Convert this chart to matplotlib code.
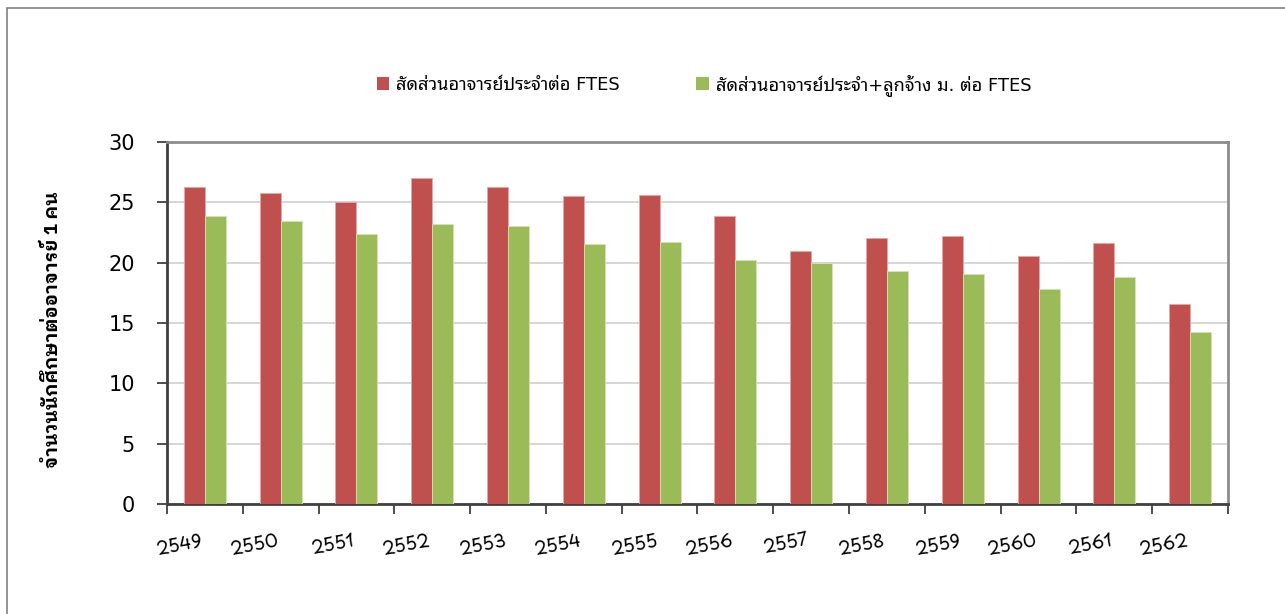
import numpy as np
import matplotlib
matplotlib.use("Agg")
import matplotlib.pyplot as plt
from matplotlib.patches import Rectangle, Patch

# ─── Données ─────────────────────────────────────────────────────────────────
years     = ["2549", "2550", "2551", "2552", "2553", "2554", "2555",
             "2556", "2557", "2558", "2559", "2560", "2561", "2562"]
full_time = [26.3, 25.8, 25.0, 27.05, 26.3, 25.5, 25.6,
             23.87, 20.97, 22.05, 22.21, 20.58, 21.66, 16.6]
with_temp = [23.86, 23.45, 22.4, 23.2, 23.06, 21.57, 21.74,
             20.22, 19.95, 19.31, 19.09, 17.84, 18.79, 14.22]
label_ft  = "สัดส่วนอาจารย์ประจำต่อ FTES"
label_wt  = "สัดส่วนอาจารย์ประจำ+ลูกจ้าง ม. ต่อ FTES"
ylabel    = "จำนวนนักศึกษาต่ออาจารย์ 1 คน"

RED   = "#C0504D"
GREEN = "#9BBB59"
TXT   = ["DejaVu Sans", "Noto Sans Thai Looped"]
HAND  = ["Playpen Sans Thai", "DejaVu Sans"]

# ─── Figure ──────────────────────────────────────────────────────────────────
W, H = 1285, 614
fig = plt.figure(figsize=(W / 100, H / 100), dpi=100)
ax = fig.add_axes([167 / W, 1 - 504 / H, (1228 - 167) / W, (504 - 142) / H])

# cadre extérieur du graphique (coupé à droite et en bas)
fig.patches.append(Rectangle((7 / W, -0.5), 2, 1.5 - 8 / H, transform=fig.transFigure,
                             fill=False, edgecolor="#7f7f7f", lw=1.2, zorder=0))

x = np.arange(len(years))
bw = 0.277
ax.bar(x - bw / 2, full_time, bw, color=RED, edgecolor="#e8a8a6", lw=0.6, zorder=3)
ax.bar(x + bw / 2, with_temp, bw, color=GREEN, edgecolor="#d4e4b4", lw=0.6, zorder=3)

ax.set_xlim(-0.5, len(years) - 0.5)
ax.set_ylim(0, 30)
ax.set_yticks(range(0, 31, 5))
ax.yaxis.grid(True, color="#d0d0d0", lw=1.2, zorder=0)
ax.set_axisbelow(True)

# graduations X aux frontières, étiquettes au centre
ax.set_xticks(np.arange(-0.5, len(years), 1.0))
ax.set_xticklabels([])
ax.set_xticks(x, minor=True)
ax.set_xticklabels(years, minor=True, rotation=11, ha="right", va="top",
                   family=HAND, fontsize=13)
ax.tick_params(axis="x", which="major", length=7, width=1.3, color="#404040", direction="out")
ax.tick_params(axis="x", which="minor", length=0, pad=19)
ax.tick_params(axis="y", length=7, width=1.3, color="#404040", direction="out",
               labelsize=15, pad=16)
for t in ax.get_yticklabels():
    t.set_family(TXT)

for s in ["left", "bottom"]:
    ax.spines[s].set_color("#404040")
    ax.spines[s].set_linewidth(2)
for s in ["top", "right"]:
    ax.spines[s].set_color("#8c8c8c")
    ax.spines[s].set_linewidth(2)

fig.text(52 / W, 1 - 330 / H, ylabel, rotation=90, ha="center", va="center",
         family=["IBM Plex Sans Thai Looped", "DejaVu Sans"], fontweight="bold", fontsize=13.5)

handles = [Patch(facecolor=RED, edgecolor="none"), Patch(facecolor=GREEN, edgecolor="none")]
fig.legend(handles, [label_ft, label_wt], loc="center", bbox_to_anchor=(704 / W, 1 - 85 / H),
           ncol=2, frameon=False, prop={"family": TXT, "size": 13},
           handlelength=0.7, handleheight=0.7, handletextpad=0.4, columnspacing=4.2)

fig.savefig("out.png", dpi=100)
